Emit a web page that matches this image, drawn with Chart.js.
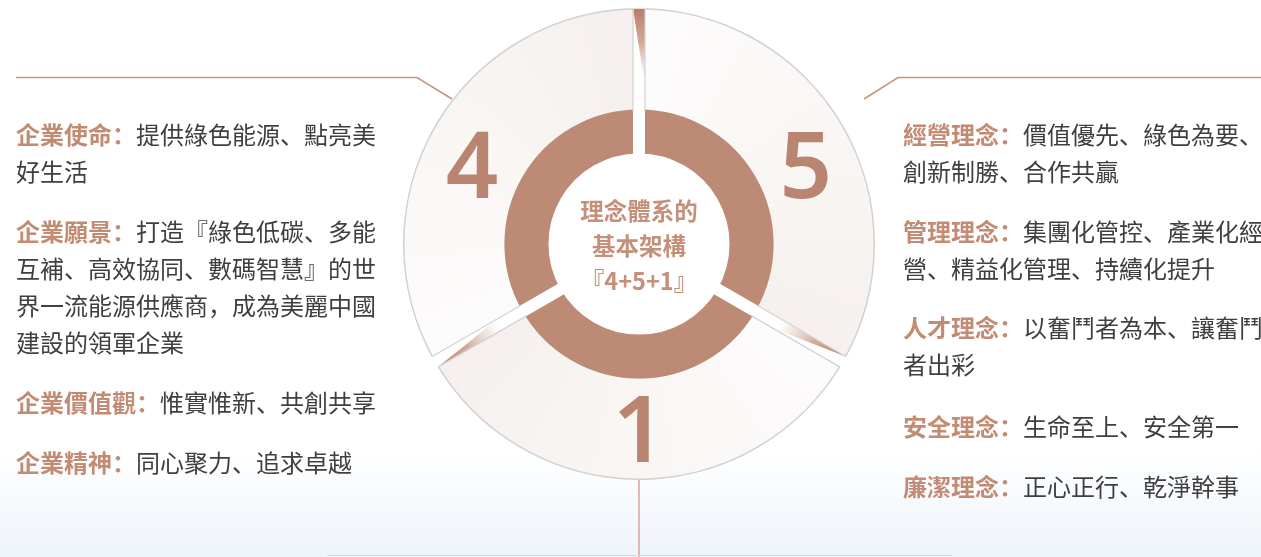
<!DOCTYPE html>
<html>
<head>
<meta charset="utf-8">
<script src="https://cdn.jsdelivr.net/npm/chart.js@4.4.1/dist/chart.umd.min.js"></script>
<style>
html,body{margin:0;padding:0;}
body{width:1261px;height:557px;overflow:hidden;position:relative;
  background:linear-gradient(to bottom,#ffffff 0px,#ffffff 450px,#eef4fa 557px);
  font-family:"Noto Sans CJK SC","Noto Sans",sans-serif;}
#c{position:absolute;left:0;top:0;}
.para{position:absolute;font-size:24px;line-height:37px;color:#3f3f3f;white-space:nowrap;}
.para b{color:#c28b73;font-weight:700;}
#center{position:absolute;left:539px;width:200px;top:193px;text-align:center;
  font-size:23.5px;line-height:35px;font-weight:700;color:#c4907a;}
</style>
</head>
<body>
<canvas id="c" width="1261" height="557"></canvas>
<div id="center"></div>
<div id="texts"></div>
<script>
// ---- data ----
const segmentLabels = ['5', '1', '4'];
const segmentValues = [1, 1, 1];
const ringValues = [1, 1, 1];
const centerTitle = ['理念體系的', '基本架構', '『4+5+1』'];

const leftHeads = ['企業使命：', '企業願景：', '企業價值觀：', '企業精神：'];
const leftBodies = [
  ['提供綠色能源、點亮美', '好生活'],
  ['打造『綠色低碳、多能', '互補、高效協同、數碼智慧』的世', '界一流能源供應商，成為美麗中國', '建設的領軍企業'],
  ['惟實惟新、共創共享'],
  ['同心聚力、追求卓越']
];
const rightHeads = ['經營理念：', '管理理念：', '人才理念：', '安全理念：', '廉潔理念：'];
const rightBodies = [
  ['價值優先、綠色為要、', '創新制勝、合作共贏'],
  ['集團化管控、產業化經', '營、精益化管理、持續化提升'],
  ['以奮鬥者為本、讓奮鬥', '者出彩'],
  ['生命至上、安全第一'],
  ['正心正行、乾淨幹事']
];

// ---- text layout ----
const leftFirstLineY = [135, 232, 403, 463];
const rightFirstLineY = [135, 232, 328, 427, 487];

function buildParas(heads, bodies, ys, x){
  const wrap = document.getElementById('texts');
  heads.forEach((h, i) => {
    const d = document.createElement('div');
    d.className = 'para';
    d.style.left = x + 'px';
    d.style.top = (ys[i] - 20) + 'px';
    let html = '<b>' + h + '</b>' + bodies[i][0];
    for (let k = 1; k < bodies[i].length; k++) html += '<br>' + bodies[i][k];
    d.innerHTML = html;
    wrap.appendChild(d);
  });
}
buildParas(leftHeads, leftBodies, leftFirstLineY, 16);
buildParas(rightHeads, rightBodies, rightFirstLineY, 903);
document.getElementById('center').innerHTML = centerTitle.join('<br>');

// ---- styles ----
const TAN = '#bd8a75';
const LINE = '#c9927c';
const LABEL_TILT_DEG = [4.7, 0, -4.7];

function segFill(context){
  const chart = context.chart;
  const area = chart.chartArea;
  if (!area || !chart.ctx.createConicGradient) return '#f8f4f2';
  if (!chart.$segGrad){
    const cx = (area.left + area.right) / 2, cy = (area.top + area.bottom) / 2;
    const g = chart.ctx.createConicGradient(-Math.PI / 2, cx, cy);
    for (let k = 0; k < 3; k++){
      g.addColorStop(k / 3, '#fdfcfc');
      g.addColorStop(k / 3 + 0.17, '#f9f6f4');
      g.addColorStop((k + 1) / 3 - 0.0005, '#f5f0ed');
    }
    chart.$segGrad = g;
  }
  return chart.$segGrad;
}

const deco = {
  id: 'deco',
  beforeDatasetsDraw(chart){
    const ctx = chart.ctx;
    ctx.save();
    ctx.strokeStyle = LINE;
    ctx.lineWidth = 1.5;
    ctx.beginPath();
    ctx.moveTo(16, 77.5); ctx.lineTo(417, 77.5); ctx.lineTo(452, 99);
    ctx.moveTo(1261, 77.5); ctx.lineTo(898, 77.5); ctx.lineTo(864, 99);
    ctx.stroke();
    ctx.strokeStyle = '#d4a896';
    ctx.beginPath();
    ctx.moveTo(639, 478); ctx.lineTo(639, 557);
    ctx.stroke();
    ctx.strokeStyle = '#e6d4cd';
    ctx.lineWidth = 1.2;
    ctx.beginPath();
    ctx.moveTo(327, 555.5); ctx.lineTo(952, 555.5);
    ctx.stroke();
    ctx.restore();
  },
  afterDatasetsDraw(chart){
    const ctx = chart.ctx;
    const outer = chart.getDatasetMeta(0).data;
    const ring = chart.getDatasetMeta(1).data;
    const x = outer[0].x, y = outer[0].y;
    const R = outer[0].outerRadius, rMid = outer[0].innerRadius, rIn = ring[0].innerRadius;
    const hw = 6;
    ctx.save();
    outer.forEach((a, i) => {
      const th = a.startAngle;
      ctx.save();
      ctx.translate(x, y);
      ctx.rotate(th);
      // white gap band
      ctx.fillStyle = '#ffffff';
      ctx.fillRect(rIn - 8, -hw, R + 3 - (rIn - 8), hw * 2);
      const t1 = Math.sqrt(R * R - hw * hw) - 0.6;
      const t0 = Math.sqrt(rMid * rMid - hw * hw);
      // fold triangle
      const L = 78;
      const g = ctx.createLinearGradient(t1, 0, R - L, 0);
      g.addColorStop(0, 'rgba(183,126,104,1)');
      g.addColorStop(0.45, 'rgba(203,156,136,0.85)');
      g.addColorStop(0.8, 'rgba(230,208,198,0.45)');
      g.addColorStop(1, 'rgba(255,255,255,0)');
      ctx.fillStyle = g;
      ctx.beginPath();
      if (i === 0){
        ctx.moveTo(t1, -hw);
        ctx.lineTo(t1, hw);
        ctx.lineTo(R - L, hw);
      } else {
        ctx.moveTo(t1, -hw);
        ctx.lineTo(R - L, -hw);
        ctx.lineTo(R - L, hw);
      }
      ctx.closePath();
      ctx.fill();
      // grey segment edges
      ctx.strokeStyle = '#d2d2d2';
      ctx.lineWidth = 1.2;
      ctx.beginPath();
      ctx.moveTo(t0, -hw); ctx.lineTo(t1, -hw);
      ctx.moveTo(t0, hw); ctx.lineTo(t1, hw);
      ctx.stroke();
      ctx.restore();
    });
    // big digits
    ctx.fillStyle = '#b98570';
    ctx.font = '600 92px "Noto Sans", "Open Sans", sans-serif';
    ctx.textAlign = 'center';
    ctx.textBaseline = 'alphabetic';
    outer.forEach((a, i) => {
      const mid = (a.startAngle + a.endAngle) / 2 + LABEL_TILT_DEG[i] * Math.PI / 180;
      const r = (a.innerRadius + a.outerRadius) / 2;
      ctx.fillText(segmentLabels[i], a.x + r * Math.cos(mid), a.y + r * Math.sin(mid) + 33);
    });
    ctx.restore();
  }
};

new Chart(document.getElementById('c'), {
  type: 'doughnut',
  data: {
    labels: segmentLabels,
    datasets: [
      {
        data: segmentValues,
        weight: 103,
        order: 1,
        backgroundColor: segFill,
        borderColor: '#d2d2d2',
        borderWidth: 1.2,
        borderAlign: 'inner',
        hoverOffset: 0,
        offset: 0
      },
      {
        data: ringValues,
        weight: 41,
        order: 0,
        backgroundColor: TAN,
        borderColor: TAN,
        borderWidth: 3,
        hoverOffset: 0,
        offset: 0
      }
    ]
  },
  options: {
    responsive: false,
    animation: false,
    events: [],
    cutout: '39%',
    rotation: 0,
    layout: { padding: { left: 403, right: 386, top: 8, bottom: 77 } },
    plugins: { legend: { display: false }, tooltip: { enabled: false }, title: { display: false } }
  },
  plugins: [deco]
});
</script>
</body>
</html>
